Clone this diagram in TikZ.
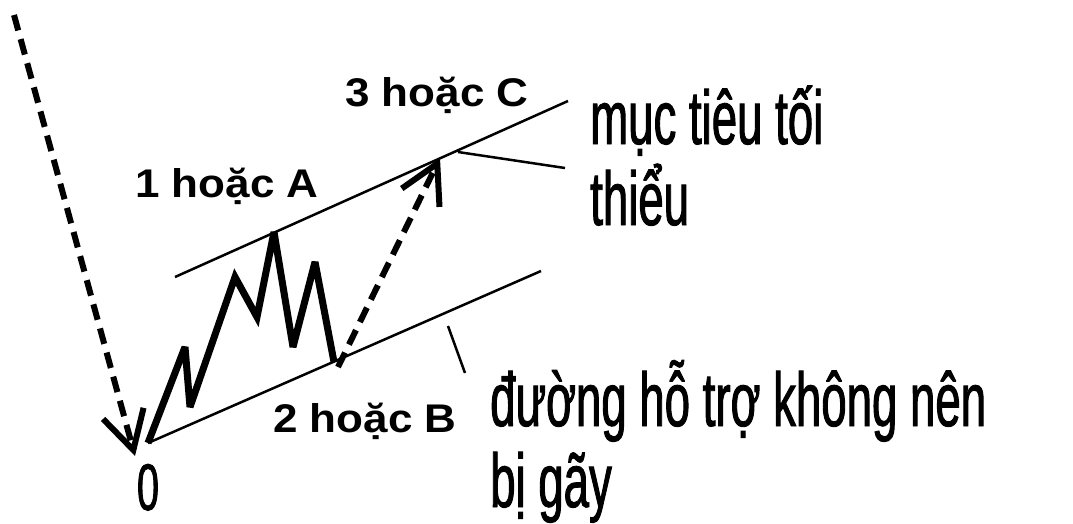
\documentclass[tikz,border=0pt]{standalone}
\usepackage{fontspec}
\setmainfont{Liberation Sans}
\newfontfamily\narrowsf[FakeStretch=0.6,FakeBold=1.2]{Liberation Sans}
\newfontfamily\labelsf[FakeStretch=1.1]{Liberation Sans}
\usetikzlibrary{arrows.meta}
\tikzset{
  trend/.style={line width=2.5pt},
  wave/.style={line width=7pt, line join=miter, miter limit=3},
  proj/.style={line width=6pt, dash pattern=on 16pt off 9pt,
               -{Straight Barb[length=38pt,width=42pt]}},
  ptr/.style={line width=2.5pt},
  lbl/.style={font=\labelsf\bfseries\fontsize{40}{44}\selectfont,
              inner sep=0pt, anchor=base west},
  note/.style={font=\narrowsf\fontsize{76}{81}\selectfont, inner sep=0pt,
               align=left, anchor=base west},
}

\begin{document}
\begin{tikzpicture}[x=1pt, y=-1pt]
    \useasboundingbox (0,0) rectangle (1073,523);
    % wave points
    \coordinate (w0) at (148,443);
    \coordinate (w1) at (185,347);
    \coordinate (w2) at (190,407);
    \coordinate (w3) at (235,277);
    \coordinate (w4) at (257,317);
    \coordinate (w5) at (274,232);
    \coordinate (w6) at (293,347);
    \coordinate (w7) at (315,262);
    \coordinate (w8) at (334,362);
    % channel lines
    \coordinate (up0) at (175,277);
    \coordinate (up1) at (568,101);
    \coordinate (lo1) at (541,271);
    \coordinate (top) at (14,15);
    \coordinate (tc) at (440,158);
    \draw[trend] (up0) -- (up1);
    \draw[trend] (w0) -- (lo1);
    \draw[wave] (w0) -- (w1) -- (w2) -- (w3) -- (w4) -- (w5) -- (w6) -- (w7) -- (w8);
    \draw[proj] (top) -- ([xshift=-13pt,yshift=-13pt]w0);
    \draw[proj] ([xshift=4pt,yshift=-5pt]w8) -- (tc);

    \node[lbl] (la) at (135,197) {1 hoặc A};
    \node[lbl] (lb) at (273,432) {2 hoặc B};
    \node[lbl] (lc) at (345,106) {3 hoặc C};
    \node[font=\narrowsf\fontsize{66}{70}\selectfont, inner sep=0pt,
          anchor=base] (zero) at (148,510) {0};

    \node[note] (goal) at (590,225) {mục tiêu tối\\thiểu};
    \node[note] (supp) at (490,507) {đường hỗ trợ không nên\\bị gãy};
    \coordinate (pg) at (458,152);
    \coordinate (pg1) at (565,168);
    \coordinate (ps) at (448,326);
    \coordinate (ps1) at (465,373);
    \draw[ptr] (pg) -- (pg1);
    \draw[ptr] (ps) -- (ps1);
\end{tikzpicture}
\end{document}
